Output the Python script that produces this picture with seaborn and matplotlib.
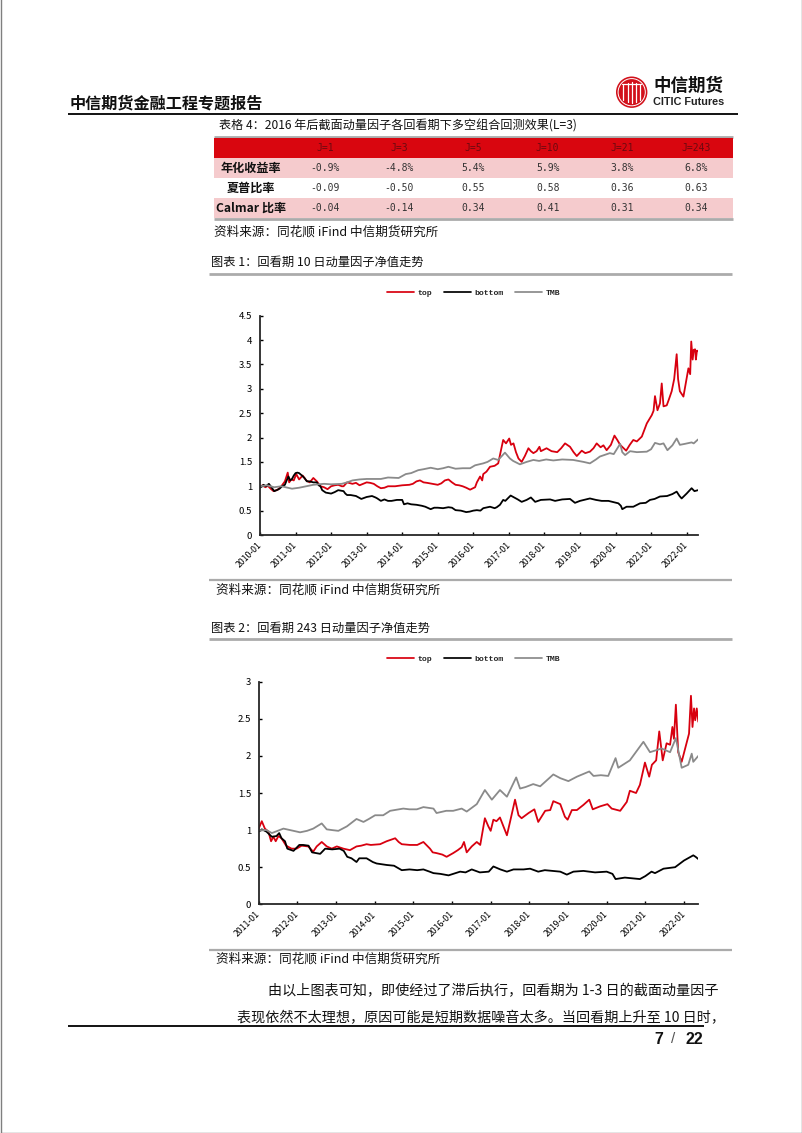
import matplotlib
matplotlib.use("Agg")
import matplotlib.pyplot as plt
from matplotlib.colors import ListedColormap
from matplotlib.patches import Circle, Rectangle
from matplotlib.transforms import ScaledTranslation
import numpy as np
import pandas as pd
import seaborn as sns

sns.set_style("white")
plt.rcParams["font.family"] = ["Noto Sans CJK SC", "DejaVu Sans"]

RED = "#d8000f"
GRAY = "#8a8a8a"
RULE = "#ababab"

# table
col_labels = ["", "J=1", "J=3", "J=5", "J=10", "J=21", "J=243"]
row_annual = ["年化收益率", "-0.9%", "-4.8%", "5.4%", "5.9%", "3.8%", "6.8%"]
row_sharpe = ["夏普比率", "-0.09", "-0.50", "0.55", "0.58", "0.36", "0.63"]
row_calmar = ["Calmar 比率", "-0.04", "-0.14", "0.34", "0.41", "0.31", "0.34"]

# chart 1: lookback 10 days
c1_top_x = [2010.0, 2010.08, 2010.15, 2010.22, 2010.3, 2010.38, 2010.5, 2010.6, 2010.7, 2010.78, 2010.82, 2010.88, 2010.95,
            2011.02, 2011.1, 2011.2, 2011.3, 2011.4, 2011.5, 2011.6, 2011.7, 2011.8, 2011.9,
            2012.0, 2012.1, 2012.2, 2012.3, 2012.35, 2012.45, 2012.6, 2012.7, 2012.8, 2012.9,
            2013.0, 2013.1, 2013.2, 2013.3, 2013.4, 2013.5, 2013.6, 2013.8, 2013.9,
            2014.0, 2014.2, 2014.3, 2014.4, 2014.5, 2014.6, 2014.7, 2014.85,
            2015.0, 2015.1, 2015.2, 2015.3, 2015.4, 2015.5, 2015.6, 2015.7, 2015.8, 2015.91,
            2016.05, 2016.1, 2016.19, 2016.25, 2016.28, 2016.37, 2016.47, 2016.6, 2016.7, 2016.84, 2016.92,
            2017.01, 2017.06, 2017.13, 2017.2, 2017.27, 2017.36, 2017.45, 2017.55, 2017.62, 2017.69, 2017.78, 2017.86, 2017.9,
            2018.06, 2018.2, 2018.36, 2018.47, 2018.58, 2018.72, 2018.82, 2018.91,
            2019.05, 2019.15, 2019.28, 2019.38, 2019.47, 2019.58, 2019.66, 2019.75, 2019.87, 2019.97,
            2020.05, 2020.13, 2020.3, 2020.4, 2020.5, 2020.6, 2020.74, 2020.88,
            2021.02, 2021.07, 2021.11, 2021.18, 2021.25, 2021.3, 2021.35, 2021.44, 2021.5, 2021.58, 2021.65, 2021.72, 2021.76, 2021.81, 2021.91,
            2022.05, 2022.1, 2022.13, 2022.17, 2022.2, 2022.24, 2022.26, 2022.29, 2022.32]
c1_top_y = [1.0, 1.02, 0.98, 1.01, 0.95, 0.9, 0.93, 1.0, 1.1, 1.28, 1.08, 1.14, 1.12,
            1.25, 1.14, 1.22, 1.12, 1.08, 1.17, 1.1, 1.0, 0.98, 0.94,
            1.0, 1.02, 1.03, 1.0, 1.0, 1.08, 1.05, 1.07, 1.02, 1.05,
            1.08, 1.07, 1.05, 1.0, 0.96, 0.97, 1.0, 1.0, 1.01,
            1.02, 1.03, 1.05, 1.1, 1.12, 1.08, 1.07, 1.05,
            1.03, 1.06, 1.12, 1.14, 1.08, 1.03, 1.02, 1.0, 0.97, 0.93,
            0.98, 1.08, 1.2, 1.12, 1.25, 1.3, 1.4, 1.42, 1.47, 1.95, 1.88,
            1.98, 1.85, 1.88, 1.7, 1.57, 1.5, 1.62, 1.78, 1.72, 1.68, 1.72, 1.81, 1.72,
            1.78, 1.72, 1.7, 1.78, 1.88, 1.81, 1.7, 1.62,
            1.73, 1.68, 1.71, 1.78, 1.88, 1.8, 1.84, 1.74, 1.85, 2.04,
            1.95, 1.85, 1.73, 1.85, 1.95, 1.92, 2.02, 2.29,
            2.46, 2.55, 2.85, 2.56, 2.7, 3.11, 2.64, 2.66, 2.78, 2.95, 3.2, 3.71, 3.2, 2.95, 2.84,
            3.42, 3.3, 3.97, 3.6, 3.8, 3.81, 3.6, 3.78, 3.78]
c1_bot_x = [2010.0, 2010.05, 2010.1, 2010.17, 2010.25, 2010.3, 2010.35, 2010.4, 2010.47, 2010.55, 2010.62, 2010.7, 2010.75, 2010.8, 2010.85, 2010.9, 2010.95,
            2011.0, 2011.05, 2011.1, 2011.18, 2011.25, 2011.32, 2011.4, 2011.5, 2011.6, 2011.65, 2011.7, 2011.75, 2011.85,
            2012.0, 2012.1, 2012.2, 2012.35, 2012.4, 2012.45, 2012.55, 2012.7, 2012.8, 2012.85,
            2013.0, 2013.15, 2013.25, 2013.3, 2013.4, 2013.5, 2013.6, 2013.7, 2013.85,
            2014.0, 2014.05, 2014.15, 2014.25, 2014.4, 2014.55, 2014.65, 2014.8, 2014.9,
            2015.0, 2015.15, 2015.3, 2015.4, 2015.5, 2015.65, 2015.8, 2015.9,
            2016.0, 2016.1, 2016.2, 2016.28, 2016.47, 2016.6, 2016.66, 2016.75, 2016.84, 2016.9,
            2017.05, 2017.15, 2017.25, 2017.36, 2017.5, 2017.62, 2017.74, 2017.9,
            2018.16, 2018.3, 2018.5, 2018.72, 2018.86,
            2019.0, 2019.28, 2019.45, 2019.61, 2019.8,
            2020.08, 2020.15, 2020.19, 2020.31, 2020.5, 2020.69, 2020.85, 2020.97,
            2021.1, 2021.25, 2021.45, 2021.6, 2021.72, 2021.8, 2021.86,
            2022.0, 2022.14, 2022.22, 2022.32]
c1_bot_y = [0.97, 1.0, 1.03, 1.0, 1.05, 1.0, 0.95, 0.9, 0.92, 0.95, 1.0, 1.03, 1.12, 1.2, 1.12, 1.15, 1.22,
            1.27, 1.28, 1.27, 1.22, 1.17, 1.1, 1.1, 1.08, 1.08, 1.02, 1.0, 0.92, 0.87,
            0.85, 0.88, 0.92, 0.9, 0.85, 0.82, 0.82, 0.8, 0.76, 0.74,
            0.78, 0.8, 0.77, 0.75, 0.7, 0.73, 0.7, 0.7, 0.72,
            0.72, 0.63, 0.65, 0.63, 0.62, 0.6, 0.58, 0.53, 0.56,
            0.56, 0.55, 0.57, 0.56, 0.51, 0.5, 0.47, 0.48,
            0.5, 0.51, 0.5, 0.55, 0.58, 0.55, 0.57, 0.62, 0.72, 0.7,
            0.81, 0.77, 0.73, 0.68, 0.72, 0.77, 0.68, 0.72,
            0.73, 0.7, 0.73, 0.74, 0.66,
            0.7, 0.75, 0.72, 0.7, 0.7,
            0.65, 0.6, 0.53, 0.58, 0.58, 0.65, 0.66, 0.72,
            0.74, 0.79, 0.8, 0.84, 0.89, 0.8, 0.75,
            0.85, 0.96, 0.9, 0.92]
c1_tmb_x = [2010.0, 2010.2, 2010.4, 2010.6, 2010.9,
            2011.1, 2011.3, 2011.5, 2011.8,
            2012.0, 2012.3, 2012.45, 2012.6, 2012.8,
            2013.0, 2013.2, 2013.4, 2013.6, 2013.9,
            2014.1, 2014.25, 2014.45, 2014.6, 2014.8,
            2015.0, 2015.15, 2015.3, 2015.5, 2015.7, 2015.91,
            2016.05, 2016.28, 2016.4, 2016.56, 2016.7, 2016.89,
            2017.03, 2017.12, 2017.31, 2017.5, 2017.69, 2017.85,
            2018.05, 2018.25, 2018.5, 2018.81,
            2019.1, 2019.28, 2019.45, 2019.56, 2019.84, 2019.95,
            2020.13, 2020.19, 2020.27, 2020.41, 2020.6, 2020.88,
            2021.0, 2021.11, 2021.25, 2021.35, 2021.46, 2021.6, 2021.72, 2021.81, 2021.95,
            2022.14, 2022.2, 2022.32]
c1_tmb_y = [1.0, 1.02, 0.98, 1.0, 0.95,
            0.97, 1.0, 1.03, 1.05,
            1.04, 1.05, 1.08, 1.12, 1.14,
            1.15, 1.15, 1.15, 1.18, 1.17,
            1.25, 1.27, 1.33, 1.35, 1.38,
            1.35, 1.37, 1.4, 1.36, 1.37, 1.37,
            1.43, 1.47, 1.5, 1.57, 1.54, 1.69,
            1.57, 1.52, 1.45, 1.5, 1.54, 1.52,
            1.55, 1.53, 1.55, 1.54,
            1.5, 1.47, 1.55, 1.61, 1.68, 1.66,
            1.87, 1.7, 1.64, 1.72, 1.7, 1.71,
            1.76, 1.89, 1.86, 1.88, 1.74, 1.84, 1.98, 1.85, 1.87,
            1.9, 1.88, 1.96]

# chart 2: lookback 243 days
c2_top_x = [2011.0, 2011.08, 2011.16, 2011.25, 2011.32, 2011.38, 2011.44, 2011.51, 2011.59, 2011.71, 2011.85, 2011.98,
            2012.11, 2012.28, 2012.41, 2012.5, 2012.63, 2012.76, 2012.89,
            2013.02, 2013.19, 2013.36, 2013.53, 2013.65, 2013.79, 2013.9,
            2014.14, 2014.31, 2014.42, 2014.53, 2014.62, 2014.7, 2014.91,
            2015.1, 2015.26, 2015.43, 2015.5, 2015.6, 2015.75, 2015.86,
            2016.03, 2016.15, 2016.25, 2016.31, 2016.38, 2016.51, 2016.64, 2016.73, 2016.85, 2016.94,
            2017.0, 2017.07, 2017.15, 2017.24, 2017.33, 2017.42, 2017.5, 2017.63, 2017.72, 2017.8, 2017.98,
            2018.13, 2018.23, 2018.41, 2018.54, 2018.62, 2018.8, 2018.92, 2018.99,
            2019.1, 2019.23, 2019.4, 2019.55, 2019.64, 2019.83,
            2020.02, 2020.13, 2020.35, 2020.52, 2020.6, 2020.76, 2020.86, 2020.99,
            2021.1, 2021.17, 2021.28, 2021.36, 2021.45, 2021.55, 2021.64, 2021.7, 2021.74, 2021.79, 2021.85, 2021.94,
            2022.03, 2022.13, 2022.18, 2022.22, 2022.26, 2022.29, 2022.33, 2022.37]
c2_top_y = [1.02, 1.12, 1.02, 0.98, 0.85, 0.91, 0.85, 0.92, 0.89, 0.79, 0.75, 0.75,
            0.79, 0.78, 0.71, 0.78, 0.84, 0.78, 0.75,
            0.78, 0.75, 0.73, 0.78, 0.79, 0.81, 0.8,
            0.81, 0.85, 0.87, 0.89, 0.84, 0.81, 0.8,
            0.8, 0.84, 0.75, 0.7, 0.69, 0.67, 0.64,
            0.69, 0.73, 0.77, 0.84, 0.7, 0.78, 0.84, 0.8, 1.16, 1.05,
            0.99, 1.14, 1.12, 1.17, 1.05, 0.93, 1.11, 1.41, 1.2, 1.16, 1.23,
            1.28, 1.11, 1.26, 1.27, 1.39, 1.35, 1.18, 1.14,
            1.27, 1.27, 1.34, 1.41, 1.28, 1.32,
            1.35, 1.29, 1.26, 1.38, 1.53, 1.5, 1.61, 1.91,
            1.72, 1.88, 1.94, 2.33, 1.94, 2.17, 2.15, 2.39, 2.23, 2.69, 2.05, 1.92,
            2.1, 2.3, 2.81, 2.39, 2.64, 2.48, 2.64, 2.46]
c2_bot_x = [2011.0, 2011.08, 2011.2, 2011.34, 2011.46, 2011.53, 2011.59, 2011.68, 2011.74, 2011.9,
            2012.05, 2012.15, 2012.29, 2012.38, 2012.59, 2012.72, 2012.9,
            2013.09, 2013.2, 2013.29, 2013.4, 2013.53, 2013.6, 2013.79, 2013.95,
            2014.05, 2014.31, 2014.5, 2014.7, 2014.9,
            2015.1, 2015.26, 2015.42, 2015.52, 2015.7, 2015.91,
            2016.21, 2016.35, 2016.51, 2016.72, 2016.95,
            2017.07, 2017.25, 2017.42, 2017.59, 2017.85,
            2018.02, 2018.23, 2018.4, 2018.8, 2018.97,
            2019.14, 2019.4, 2019.7,
            2020.0, 2020.15, 2020.23, 2020.47, 2020.86,
            2021.0, 2021.16, 2021.25, 2021.47, 2021.77,
            2022.0, 2022.24, 2022.3, 2022.37]
c2_bot_y = [0.98, 1.01, 0.98, 0.91, 0.92, 0.96, 0.89, 0.85, 0.75, 0.72,
            0.8, 0.8, 0.79, 0.7, 0.68, 0.75, 0.74,
            0.75, 0.72, 0.64, 0.62, 0.57, 0.62, 0.62, 0.57,
            0.55, 0.53, 0.52, 0.46, 0.47,
            0.46, 0.47, 0.44, 0.42, 0.41, 0.39,
            0.44, 0.43, 0.47, 0.43, 0.44,
            0.51, 0.47, 0.44, 0.47, 0.47,
            0.48, 0.44, 0.46, 0.44, 0.4,
            0.44, 0.45, 0.43,
            0.44, 0.41, 0.34, 0.36, 0.34,
            0.38, 0.44, 0.42, 0.48, 0.5,
            0.59, 0.66, 0.64, 0.61]
c2_tmb_x = [2011.0, 2011.2, 2011.34, 2011.64, 2011.9,
            2012.07, 2012.25, 2012.41, 2012.63, 2012.76, 2012.9,
            2013.06, 2013.28, 2013.53, 2013.71, 2013.85,
            2014.01, 2014.22, 2014.4, 2014.74, 2014.9,
            2015.09, 2015.26, 2015.52, 2015.6, 2015.85,
            2016.03, 2016.25, 2016.38, 2016.64, 2016.85,
            2017.03, 2017.24, 2017.42, 2017.66, 2017.76, 2017.9,
            2018.1, 2018.28, 2018.62, 2018.8,
            2019.01, 2019.23, 2019.55, 2019.66, 2019.85,
            2020.04, 2020.23, 2020.3, 2020.6, 2020.95,
            2021.12, 2021.42, 2021.64, 2021.79, 2021.94,
            2022.11, 2022.2, 2022.24, 2022.37]
c2_tmb_y = [1.0, 1.0, 0.96, 1.02, 0.99,
            0.97, 0.99, 1.02, 1.09, 1.01, 1.0,
            0.99, 1.05, 1.15, 1.11, 1.15,
            1.2, 1.2, 1.26, 1.29, 1.28,
            1.28, 1.31, 1.29, 1.23, 1.26,
            1.26, 1.29, 1.25, 1.35, 1.54,
            1.41, 1.54, 1.45, 1.71, 1.56, 1.58,
            1.62, 1.59, 1.75, 1.7,
            1.66, 1.72, 1.79, 1.73, 1.74,
            1.73, 1.97, 1.84, 1.94, 2.19,
            2.05, 2.1, 2.05, 2.24, 1.84,
            1.88, 2.03, 1.92, 2.0]

c1_ticks = list(range(2010, 2023))
c2_ticks = list(range(2011, 2023))
c1_yticks = [0, 0.5, 1, 1.5, 2, 2.5, 3, 3.5, 4, 4.5]
c2_yticks = [0, 0.5, 1, 1.5, 2, 2.5, 3]

W, H = 802, 1133
fig = plt.figure(figsize=(W / 100, H / 100), dpi=100, facecolor="white")


def px_axes(left, top, right, bottom, **kw):
    return fig.add_axes([left / W, 1 - bottom / H, (right - left) / W, (bottom - top) / H], **kw)


# page layer in pixel coordinates
page = fig.add_axes([0, 0, 1, 1], zorder=0)
page.set_xlim(0, W)
page.set_ylim(H, 0)
page.axis("off")
page.add_patch(Rectangle((0.5, -2), W - 1, H + 1.5, fc="none", ec="#7f7f7f", lw=1))


def rule(x0, x1, y, color=RULE, lw=2.0):
    page.plot([x0, x1], [y, y], color=color, lw=lw, solid_capstyle="butt")


def txt(x, y, s, size, ha="left", weight="normal", **kw):
    page.text(x, y + 1, s, fontsize=size, ha=ha, va="center", weight=weight, color="#111111", **kw)


# header
txt(70, 102.5, "中信期货金融工程专题报告", 11.6, weight="bold")
rule(68, 738, 114, "black", 1.3)
page.add_patch(Circle((631.7, 92.2), 15.7, fc="#d2111b", ec="none"))
for dx in [-8.5, -4, 0, 4, 8.5]:
    page.plot([631.7 + dx] * 2, [92.2 - 10 + abs(dx) * 0.3, 92.2 + 11 - abs(dx) * 0.4], color="white", lw=0.9)
page.plot([622, 641], [84, 84], color="white", lw=0.9)
page.add_patch(Circle((631.7, 92.2), 13.6, fc="none", ec="white", lw=0.7))
txt(653, 84.5, "中信期货", 12.6, weight="bold")
page.text(653, 102, "CITIC Futures", fontsize=7.8, family="Liberation Sans", va="center", color="#222222", weight="bold")

# table
txt(219, 125, "表格 4：2016 年后截面动量因子各回看期下多空组合回测效果(L=3)", 8.7)
rule(214, 733, 137, RULE, 2.0)
rule(214, 733, 219, RULE, 2.0)
table_rows = np.array([col_labels, row_annual, row_sharpe, row_calmar])
bands = np.array([[0] * 7, [1] * 7, [2] * 7, [1] * 7])
ax_t = px_axes(214, 138.5, 733, 218)
sns.heatmap(bands, annot=table_rows, fmt="", cbar=False, xticklabels=False, yticklabels=False, ax=ax_t,
            cmap=ListedColormap(["#d9060f", "#f5cbcd", "#ffffff"]), vmin=0, vmax=2,
            annot_kws={"fontsize": 7.0, "color": "#333333", "family": "DejaVu Sans Mono"})
for i, t in enumerate(ax_t.texts):
    if i < 7:
        t.set_color("#6a0a10")
    elif i % 7 == 0:
        t.set_family(["Noto Sans CJK SC", "DejaVu Sans"])
        t.set_color("#111111")
        t.set_weight("bold")
        t.set_fontsize(8.7)
txt(214, 231, "资料来源：同花顺 iFind 中信期货研究所", 9.05)


def draw_chart(box, xmin, xmax, ymax, ticks, yticks, series):
    ax = px_axes(*box)
    ax.patch.set_alpha(0)
    frames = [pd.DataFrame({"year": x, "value": y, "series": name}) for name, x, y in series]
    sns.lineplot(data=pd.concat(frames), x="year", y="value", hue="series", estimator=None, sort=False,
                 palette={"top": RED, "bottom": "black", "TMB": GRAY}, lw=1.3, ax=ax)
    ax.set_xlim(xmin, xmax)
    ax.set_ylim(0, ymax)
    ax.set_xlabel("")
    ax.set_ylabel("")
    ax.set_xticks(ticks)
    ax.set_xticklabels([f"{t}-01" for t in ticks], rotation=45, ha="right", rotation_mode="anchor")
    ax.set_yticks(yticks)
    ax.set_yticklabels([f"{t:g}" for t in yticks])
    ax.tick_params(axis="both", direction="in", length=2.2, width=1, colors="black", left=True, bottom=True)
    ax.tick_params(axis="y", labelsize=6.9, pad=5.5)
    ax.tick_params(axis="x", labelsize=6.3, pad=4)
    shift = ScaledTranslation(-3 / 100, 0, fig.dpi_scale_trans)
    for lab in ax.get_xticklabels():
        lab.set_transform(lab.get_transform() + shift)
    ax.spines[["top", "right"]].set_visible(False)
    ax.spines[["left", "bottom"]].set_linewidth(1.3)
    leg = ax.legend(loc="center", bbox_to_anchor=(473.5 / W, 1 - (box[1] - 23) / H), bbox_transform=fig.transFigure,
                    ncol=3, frameon=False, handlelength=3.3, handletextpad=0.45, columnspacing=1.4,
                    prop={"family": "Liberation Mono", "weight": "bold", "size": 5.9})
    for line in leg.get_lines():
        line.set_linewidth(1.25)
    return ax


# chart 1
txt(211, 261.5, "图表 1：回看期 10 日动量因子净值走势", 8.8)
rule(209, 732, 274, RULE, 2.0)
draw_chart((260, 315.7, 698, 535), 2010, 2022.32, 4.5, c1_ticks, c1_yticks,
           [("top", c1_top_x, c1_top_y), ("bottom", c1_bot_x, c1_bot_y), ("TMB", c1_tmb_x, c1_tmb_y)])
rule(209, 732, 579.5, RULE, 1.6)
txt(216, 589, "资料来源：同花顺 iFind 中信期货研究所", 9.05)

# chart 2
txt(211, 627, "图表 2：回看期 243 日动量因子净值走势", 8.8)
rule(209, 732, 639, RULE, 2.0)
draw_chart((258.7, 681.7, 698.3, 904.3), 2011, 2022.37, 3, c2_ticks, c2_yticks,
           [("top", c2_top_x, c2_top_y), ("bottom", c2_bot_x, c2_bot_y), ("TMB", c2_tmb_x, c2_tmb_y)])
rule(209, 732, 949.5, RULE, 1.6)
txt(216, 958, "资料来源：同花顺 iFind 中信期货研究所", 9.05)

# body and footer
txt(718, 990, "由以上图表可知，即使经过了滞后执行，回看期为 1-3 日的截面动量因子", 10.15, ha="right")
txt(725, 1017, "表现依然不太理想，原因可能是短期数据噪音太多。当回看期上升至 10 日时，", 10.15, ha="right")
rule(68, 704, 1026, "black", 1.3)
page.text(654, 1039, "7", fontsize=11.5, family="Liberation Sans", weight="bold", va="center", color="#111111")
page.text(673, 1039, "/", fontsize=11, family="Liberation Sans", va="center", ha="center", color="#555555")
page.text(703, 1039, "22", fontsize=11.5, family="Liberation Sans", weight="bold", va="center", ha="right", color="#111111")

fig.savefig("out.png", dpi=100)
